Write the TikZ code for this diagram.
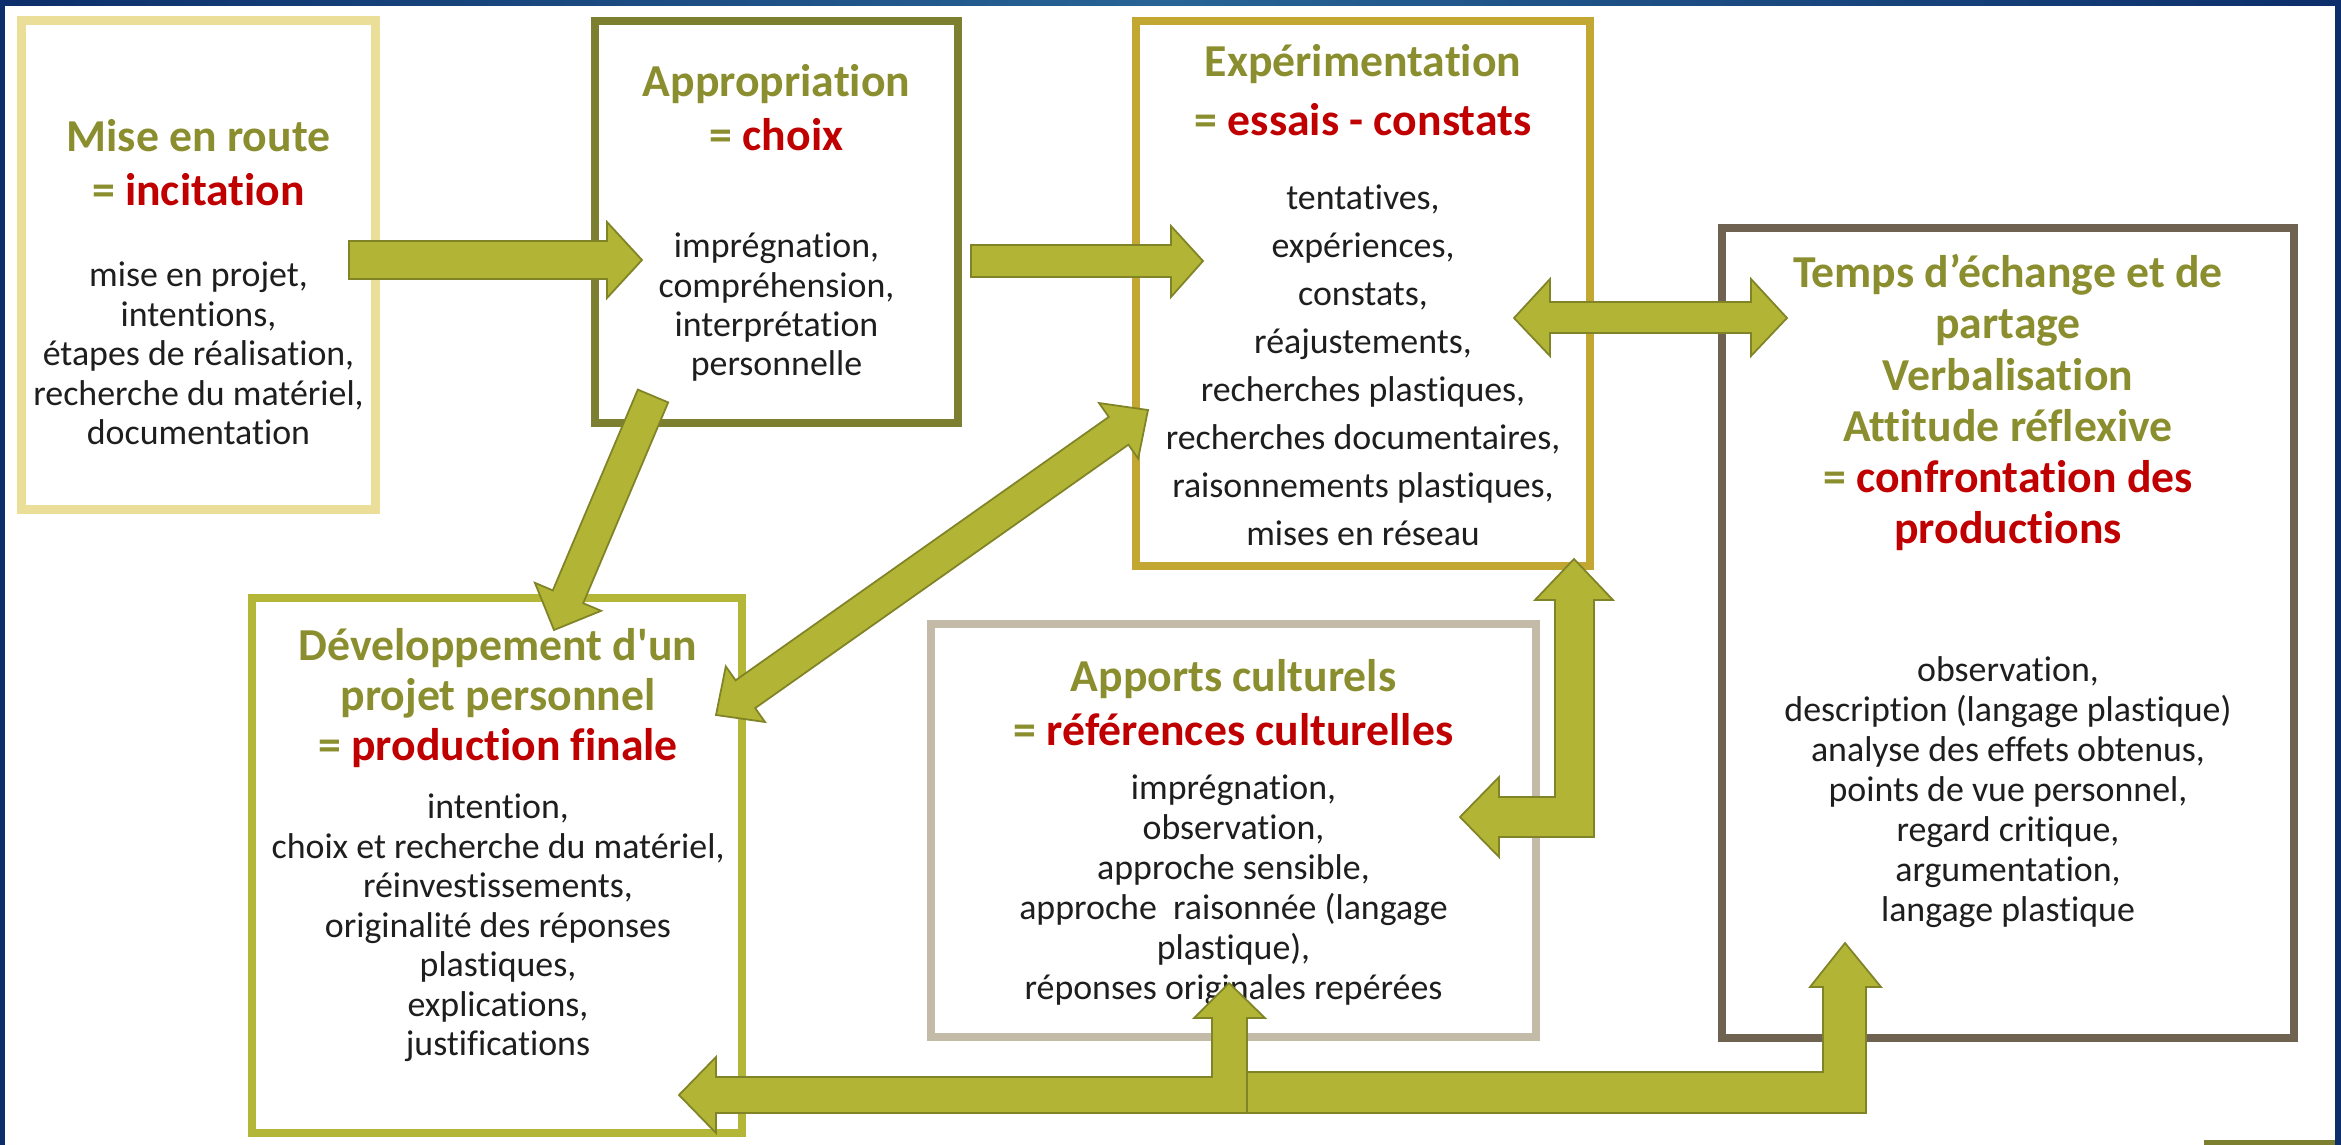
\documentclass[tikz,border=0pt]{standalone}
\usepackage{fontspec}
\setmainfont{Carlito}[Ligatures={TeXOff,CommonOff}]
\definecolor{olv}{RGB}{138,142,46}
\definecolor{redt}{RGB}{192,0,0}
\definecolor{bodyt}{RGB}{30,30,30}
\definecolor{cMise}{RGB}{234,222,152}
\definecolor{cAppr}{RGB}{125,127,48}
\definecolor{cExp}{RGB}{194,167,50}
\definecolor{cTemps}{RGB}{112,98,80}
\definecolor{cDev}{RGB}{180,182,55}
\definecolor{cApp}{RGB}{196,186,168}
\definecolor{afill}{RGB}{177,180,52}
\definecolor{aline}{RGB}{128,131,38}
\definecolor{navy}{RGB}{12,46,106}
\definecolor{navyl}{RGB}{40,100,150}
\newcommand\lnstrut{\rule[-0.25em]{0pt}{1.1em}}
\begin{document}
\begin{tikzpicture}[x=0.01cm, y=-0.01cm,
  frame/.style={rectangle, inner sep=0pt, outer sep=0pt, fill=white, line join=miter},
  ttl/.style={align=center, inner sep=0pt, text=olv, font=\bfseries\fontsize{13}{#1}\selectfont},
  bdy/.style={align=center, inner sep=0pt, text=bodyt, font=\fontsize{10.2}{#1}\selectfont},
  blockarrow/.style={fill=afill, draw=aline, line width=0.5pt, line join=miter}
]
\useasboundingbox (0,0) rectangle (2341,1145);
\fill[white] (0,0) rectangle (2341,1145);
% blue frame
\fill[navy] (0,0) rectangle (5,1145);
\fill[navy] (2335,0) rectangle (2341,1145);
\shade[left color=navy, right color=navy, middle color=navyl] (0,0) rectangle (2341,5);

% boxes
\node[frame, draw=cMise, line width=0.09cm, minimum width=3.53cm, minimum height=4.88cm] (mise) at (198.5,265) {};
\node[frame, draw=cAppr, line width=0.08cm, minimum width=3.63cm, minimum height=4.02cm] (appr) at (776.5,222) {};
\node[frame, draw=cExp, line width=0.075cm, minimum width=4.54cm, minimum height=5.45cm] (exp) at (1363,293.5) {};
\node[frame, draw=cTemps, line width=0.08cm, minimum width=5.72cm, minimum height=8.10cm] (temps) at (2008,633) {};
\node[frame, draw=cDev, line width=0.08cm, minimum width=4.90cm, minimum height=5.35cm] (dev) at (497,865.5) {};
\node[frame, draw=cApp, line width=0.08cm, minimum width=6.05cm, minimum height=4.13cm] (apports) at (1233.5,830.5) {};

% texts
\node[ttl=13.94pt] (miseT) at (198.5,164.5) {\lnstrut Mise en route\\= {\color{redt}incitation}\lnstrut};
\node[bdy=11.2pt] (miseB) at (198.5,355) {\lnstrut mise en projet,\\intentions,\\étapes de réalisation,\\recherche du matériel,\\documentation\lnstrut};

\node[ttl=13.66pt] (apprT) at (776.5,110) {\lnstrut Appropriation\\= {\color{redt}choix}\lnstrut};
\node[bdy=11.2pt] (apprB) at (776.5,306) {\lnstrut imprégnation,\\compréhension,\\interprétation\\personnelle\lnstrut};

\node[ttl=16.8pt] (expT) at (1363,92.5) {\lnstrut Expérimentation\\= {\color{redt}essais - constats}\lnstrut};
\node[bdy=13.66pt] (expB) at (1363,366.5) {\lnstrut tentatives,\\expériences,\\constats,\\réajustements,\\recherches plastiques,\\recherches documentaires,\\raisonnements plastiques,\\mises en réseau\lnstrut};

\node[ttl=14.57pt] (tempsT) at (2008,402) {\lnstrut Temps d’échange et de\\partage\\Verbalisation\\Attitude réflexive\\= {\color{redt}confrontation des}\\{\color{redt}productions}\lnstrut};
\node[bdy=11.38pt] (tempsB) at (2008,791) {\lnstrut observation,\\description (langage plastique)\\analyse des effets obtenus,\\points de vue personnel,\\regard critique,\\argumentation,\\langage plastique\lnstrut};

\node[ttl=14.2pt] (devT) at (498,697) {\lnstrut Développement d'un\\projet personnel\\= {\color{redt}production finale}\lnstrut};
\node[bdy=11.24pt] (devB) at (498,926.5) {\lnstrut intention,\\choix et recherche du matériel,\\réinvestissements,\\originalité des réponses\\plastiques,\\explications,\\justifications\lnstrut};

\node[ttl=13.4pt] (appT) at (1233.5,704.5) {\lnstrut Apports culturels\\= {\color{redt}références culturelles}\lnstrut};
\node[bdy=11.38pt] (appB) at (1233.5,888.5) {\lnstrut imprégnation,\\observation,\\approche sensible,\\approche\ \ raisonnée (langage\\plastique),\\réponses originales repérées\lnstrut};

% block arrows
% mise -> appr
\draw[blockarrow] (349,241) -- (607,241) -- (607,222) -- (642,260) -- (607,298) -- (607,279) -- (349,279) -- cycle;
% appr -> exp
\draw[blockarrow] (971,245) -- (1171,245) -- (1171,226) -- (1203,261) -- (1171,297) -- (1171,277) -- (971,277) -- cycle;
% exp <-> temps
\draw[blockarrow] (1514,318) -- (1550,279) -- (1550,302) -- (1751,302) -- (1751,279) -- (1787,318) -- (1751,356) -- (1751,333) -- (1550,333) -- (1550,356) -- cycle;
% appr -> dev (diagonal)
\draw[blockarrow] (668.2,402.4) -- (583.2,603.2) -- (601.2,610.8) -- (554,630) -- (534.9,582.8) -- (552.8,590.4) -- (637.8,389.6) -- cycle;
% dev <-> exp (diagonal)
\draw[blockarrow] (716,715) -- (765.0,722.0) -- (755.2,708.1) -- (1128.4,444.7) -- (1138.2,458.6) -- (1148,410) -- (1099.0,403.0) -- (1108.8,416.9) -- (735.6,680.3) -- (725.8,666.4) -- cycle;
% exp <-> apports (elbow)
\draw[blockarrow] (1574,559) -- (1613,600) -- (1594,600) -- (1594,837) -- (1499,837) -- (1499,857) -- (1460,817) -- (1499,777) -- (1499,797) -- (1555,797) -- (1555,600) -- (1535,600) -- cycle;
% bottom: to dev and apports
\draw[blockarrow] (679,1095) -- (716,1057) -- (716,1077) -- (1212,1077) -- (1212,1018) -- (1194,1018) -- (1229,983) -- (1265,1018) -- (1247,1018) -- (1247,1113) -- (716,1113) -- (716,1133) -- cycle;
% bottom: to temps
\draw[blockarrow] (1247,1072) -- (1823,1072) -- (1823,987) -- (1810,987) -- (1845,943) -- (1881,987) -- (1866,987) -- (1866,1113) -- (1247,1113) -- cycle;

% small olive line at bottom right
\fill[cAppr] (2204,1140) rectangle (2335,1145);
\end{tikzpicture}
\end{document}
